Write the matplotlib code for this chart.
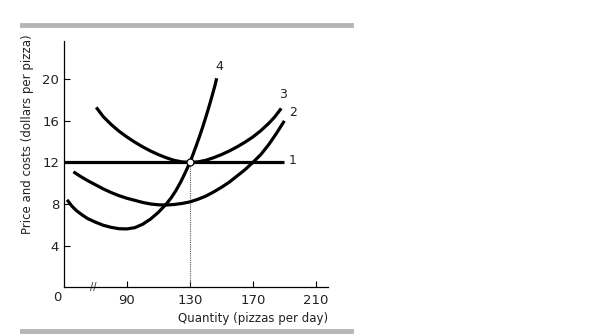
import matplotlib
matplotlib.use("Agg")
import matplotlib.pyplot as plt
import matplotlib.lines as mlines

# Curve data (x in pizzas per day, y in dollars)
mr_x = [50, 190]
mr_y = [12, 12]

mc_x = [52, 55, 58, 62, 65, 70, 75, 80, 85, 90, 95, 100, 105, 110, 115, 118, 121, 124, 127,
        130, 132, 134, 136, 138, 140, 142, 144, 146, 147]
mc_y = [8.4, 7.8, 7.35, 6.9, 6.6, 6.25, 5.95, 5.75, 5.62, 5.6, 5.72, 6.05, 6.55, 7.2, 8.0, 8.57,
        9.26, 10.07, 11.0, 12.0, 12.78, 13.6, 14.45, 15.35, 16.3, 17.3, 18.35, 19.45, 20.1]

atc_x = [56, 60, 65, 70, 75, 80, 85, 90, 95, 100, 105, 110, 115, 120, 125, 130, 135, 140, 145,
         150, 155, 160, 165, 170, 175, 180, 185, 190]
atc_y = [11.1, 10.7, 10.25, 9.85, 9.45, 9.1, 8.8, 8.55, 8.35, 8.15, 8.0, 7.92, 7.9, 7.95, 8.05,
         8.2, 8.45, 8.75, 9.15, 9.6, 10.1, 10.7, 11.3, 12.0, 12.75, 13.7, 14.8, 16.0]

avc_x = [70.5, 75, 80, 85, 90, 95, 100, 105, 110, 115, 120, 125, 130, 135, 140, 145, 150, 155,
         160, 165, 170, 175, 180, 184, 188]
avc_y = [17.3, 16.4, 15.65, 15.0, 14.45, 13.95, 13.5, 13.1, 12.75, 12.45, 12.2, 12.05, 12.0, 12.05,
         12.2, 12.45, 12.75, 13.1, 13.5, 13.95, 14.45, 15.05, 15.75, 16.4, 17.2]

curve_labels = ["1", "2", "3", "4"]
label_x = [195, 195.5, 189, 148.5]
label_y = [12.2, 16.8, 18.5, 21.2]

x_ticks = [90, 130, 170, 210]
y_ticks = [4, 8, 12, 16, 20]
point_x, point_y = 130, 12

plt.rcParams["font.family"] = ["DejaVu Sans"]

fig = plt.figure(figsize=(6.15, 3.35), dpi=100)
ax = fig.add_axes([0.104, 0.143, 0.429, 0.735])

lw = 2.3
for xs, ys in [(mr_x, mr_y), (atc_x, atc_y), (avc_x, avc_y), (mc_x, mc_y)]:
    ax.plot(xs, ys, color="black", lw=lw, solid_capstyle="butt", solid_joinstyle="round", zorder=3)

ax.plot([point_x, point_x], [0, point_y], color="#555555", lw=0.8, ls=(0, (1, 1)), zorder=2)
ax.plot([point_x], [point_y], marker="o", ms=5, mfc="white", mec="black", mew=0.9, zorder=5)

for lab, lx, ly in zip(curve_labels, label_x, label_y):
    ax.text(lx, ly, lab, fontsize=9, ha="center", va="center", color="#222222")

ax.set_xlim(50, 217.6)
ax.set_ylim(0, 23.7)
ax.set_xticks(x_ticks)
ax.set_yticks(y_ticks)
ax.tick_params(direction="in", length=4, width=0.8, labelsize=9.5, colors="black", labelcolor="#222222")
ax.tick_params(axis="x", pad=5)
ax.spines["top"].set_visible(False)
ax.spines["right"].set_visible(False)
for sp in ("left", "bottom"):
    ax.spines[sp].set_linewidth(0.9)

# origin label and axis break
ax.text(46, -0.35, "0", fontsize=9.5, ha="center", va="top", color="#222222")
ax.text(68.5, 0, "//", fontsize=7, ha="center", va="center", color="#222222")

ax.set_ylabel("Price and costs (dollars per pizza)", fontsize=8.5, color="#222222")
ax.yaxis.set_label_coords(-0.112, 0.62)
ax.set_xlabel("Quantity (pizzas per day)", fontsize=8.5, color="#222222")
ax.xaxis.set_label_coords(1.0, -0.1)
ax.xaxis.label.set_horizontalalignment("right")

# grey rules above and below
for yy in (1 - 24.5 / 335, 1 - 330.5 / 335):
    fig.add_artist(mlines.Line2D([22 / 615, 351 / 615], [yy, yy], color="#b5b5b5", lw=3.5,
                                 transform=fig.transFigure))

fig.savefig("out.png", dpi=100)
